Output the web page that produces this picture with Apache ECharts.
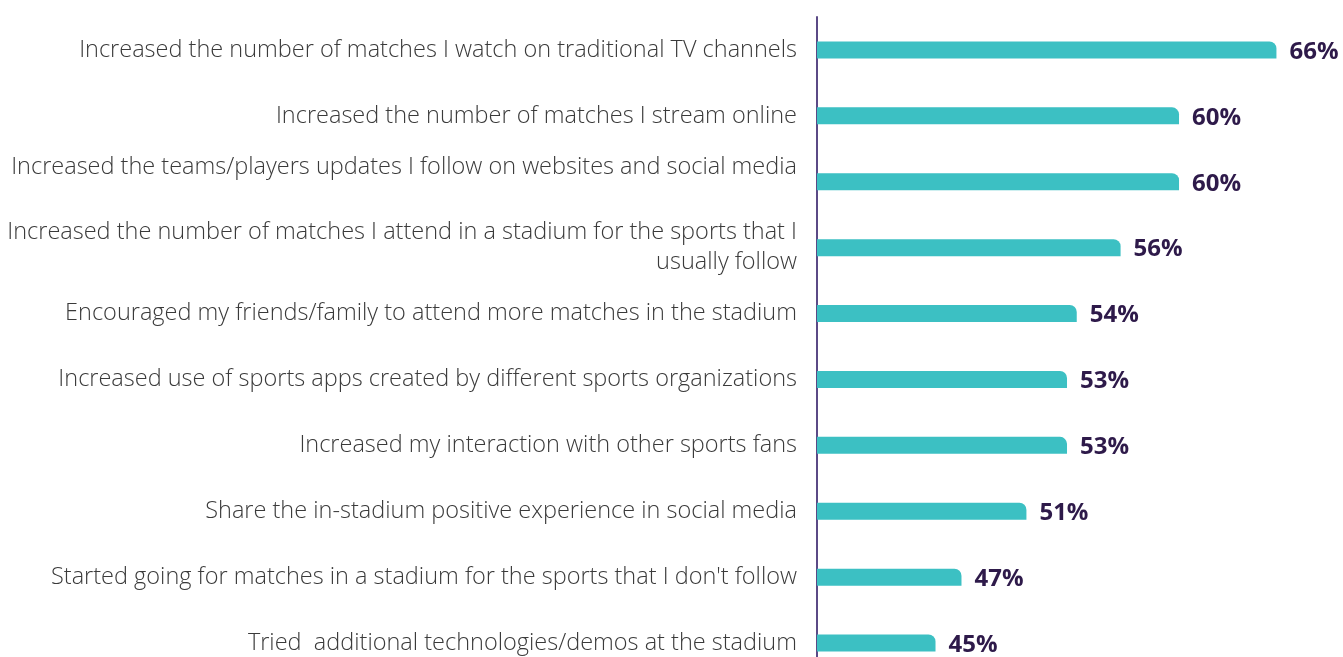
<!DOCTYPE html>
<html>
<head>
<meta charset="utf-8">
<script src="https://cdn.jsdelivr.net/npm/echarts@6/dist/echarts.min.js"></script>
<style>
  html, body { margin: 0; padding: 0; background: #fff; overflow: hidden; }
  #chart { width: 1343px; height: 676px; }
</style>
</head>
<body>
<div id="chart"></div>
<script>
// statements, top to bottom as in the reference
const categories = [
  'Increased the number of matches I watch on traditional TV channels',
  'Increased the number of matches I stream online',
  'Increased the teams/players updates I follow on websites and social media',
  'Increased the number of matches I attend in a stadium for the sports that I\nusually follow',
  'Encouraged my friends/family to attend more matches in the stadium',
  'Increased use of sports apps created by different sports organizations',
  'Increased my interaction with other sports fans',
  'Share the in-stadium positive experience in social media',
  'Started going for matches in a stadium for the sports that I don\'t follow',
  'Tried  additional technologies/demos at the stadium'
];
// share of respondents (%)
const shares = [66, 60, 60, 56.4, 53.7, 53.1, 53.1, 50.6, 46.6, 45];

const barColor = '#3cc0c3';
const labelColor = '#2e1a4a';

const chart = echarts.init(document.getElementById('chart'));

chart.setOption({
  animation: false,
  grid: { left: 817, right: 0, top: 17, bottom: 0, containLabel: false },
  xAxis: {
    type: 'value',
    min: 37.7,
    max: 70.1,
    show: false
  },
  yAxis: {
    type: 'category',
    inverse: true,
    data: categories,
    axisLine: { show: true, lineStyle: { color: '#5b4a86', width: 2 } },
    axisTick: { show: false },
    axisLabel: {
      margin: 20,
      color: '#3a3a3a',
      fontFamily: 'Open Sans',
      fontWeight: 300,
      fontSize: 23.5,
      lineHeight: 30,
      align: 'right',
      // the third statement sits higher than its bar in the original
      formatter: (v, i) => i === 2 ? '{up|' + v + '}' : v,
      rich: {
        up: {
          color: '#3a3a3a',
          fontFamily: 'Open Sans',
          fontWeight: 300,
          fontSize: 23.5,
          lineHeight: 30,
          padding: [0, 0, 28, 0]
        }
      }
    }
  },
  series: [{
    type: 'bar',
    data: shares,
    barWidth: 17,
    itemStyle: { color: barColor, borderRadius: [0, 7, 0, 0] },
    label: {
      show: true,
      position: 'right',
      distance: 13,
      offset: [0, 2],
      color: labelColor,
      fontFamily: 'Open Sans',
      fontWeight: 'bold',
      fontSize: 24,
      formatter: p => Math.round(p.value) + '%'
    }
  }]
});
</script>
</body>
</html>
